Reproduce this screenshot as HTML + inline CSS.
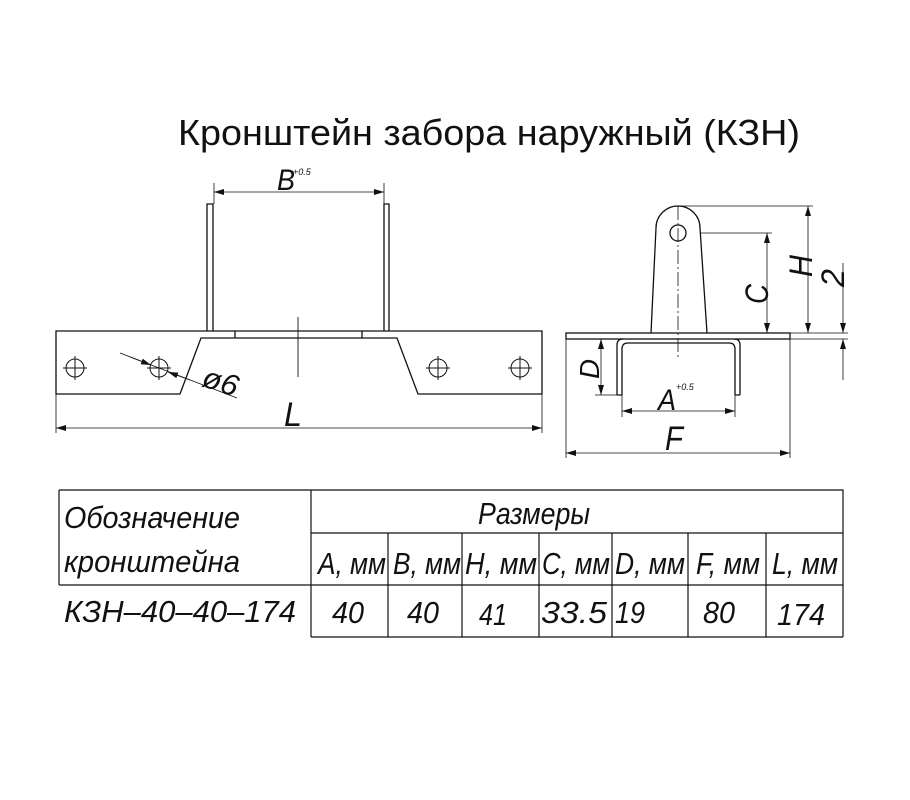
<!DOCTYPE html>
<html><head><meta charset="utf-8"><style>
html,body{margin:0;padding:0;background:#fff}
svg{display:block}
text{font-family:"Liberation Sans",sans-serif;fill:#111}
.t{font-style:italic;font-size:31px}
</style></head><body>
<svg width="910" height="800" viewBox="0 0 910 800" xmlns="http://www.w3.org/2000/svg">
<defs>
<marker id="a" viewBox="0 0 10 6" refX="10" refY="3" markerWidth="10" markerHeight="6" markerUnits="userSpaceOnUse" orient="auto-start-reverse"><path d="M0,0 L10,3 L0,6z" fill="#111"/></marker>
</defs>
<text x="178" y="145" font-size="36" textLength="622" lengthAdjust="spacingAndGlyphs">Кронштейн  забора  наружный  (КЗН)</text>
<g stroke="#111" stroke-width="1.3" fill="none">
<path d="M56,331 H542 V394 H418 L397,338 H201 L180,394 H56 Z"/>
<path d="M235,331 V338 M362,331 V338"/>
<path d="M207,331 V204 H213 V331 M384,331 V204 H389 V331"/>
<path d="M214,204 V183 M384,204 V183" stroke-width="0.8"/>
<line x1="214" y1="192" x2="384" y2="192" stroke-width="0.8" marker-start="url(#a)" marker-end="url(#a)"/>
<path d="M298,317 V377" stroke-width="0.9"/>
<g stroke-width="1">
<circle cx="75" cy="368" r="9"/><path d="M63,368 H87 M75,356 V380"/>
<circle cx="159" cy="368" r="9"/><path d="M147,368 H171 M159,356 V380"/>
<circle cx="438" cy="368" r="9"/><path d="M426,368 H450 M438,356 V380"/>
<circle cx="520" cy="368" r="9"/><path d="M508,368 H532 M520,356 V380"/>
</g>
<line x1="120" y1="353" x2="237" y2="398" stroke-width="0.8"/>
<line x1="130" y1="357" x2="151" y2="365" stroke-width="0.8" marker-end="url(#a)"/>
<line x1="190" y1="380" x2="168" y2="372" stroke-width="0.8" marker-end="url(#a)"/>
<path d="M56,394 V433 M542,394 V433" stroke-width="0.8"/>
<line x1="56" y1="428" x2="542" y2="428" stroke-width="0.8" marker-start="url(#a)" marker-end="url(#a)"/>
<rect x="566" y="333" width="224" height="6"/>
<path d="M617,395 V345 Q617,339 623,339 M622,395 V349 Q622,343 628,343 H729 Q735,343 735,349 V395 M740,395 V345 Q740,339 734,339 M617,395 H622 M735,395 H740"/>
<path d="M651,333 L656,228 A22,22 0 0 1 700,228 L707,333"/>
<circle cx="678" cy="233" r="8"/>
<path d="M678,206 V358" stroke-width="0.8" stroke-dasharray="14,3,2,3"/>
<path d="M700,233 H772 M678,206 H813 M790,333 H848 M790,339 H848" stroke-width="0.8"/>
<line x1="767" y1="233" x2="767" y2="333" stroke-width="0.8" marker-start="url(#a)" marker-end="url(#a)"/>
<line x1="808" y1="206" x2="808" y2="333" stroke-width="0.8" marker-start="url(#a)" marker-end="url(#a)"/>
<line x1="843" y1="263" x2="843" y2="333" stroke-width="0.8" marker-end="url(#a)"/>
<line x1="843" y1="380" x2="843" y2="339" stroke-width="0.8" marker-end="url(#a)"/>
<path d="M595,395 H617 M622,395 V417 M735,395 V417 M566,339 V458 M790,339 V458" stroke-width="0.8"/>
<line x1="601" y1="339" x2="601" y2="395" stroke-width="0.8" marker-start="url(#a)" marker-end="url(#a)"/>
<line x1="622" y1="411" x2="735" y2="411" stroke-width="0.8" marker-start="url(#a)" marker-end="url(#a)"/>
<line x1="566" y1="453" x2="790" y2="453" stroke-width="0.8" marker-start="url(#a)" marker-end="url(#a)"/>
<path d="M59,490 H843 V637 M59,490 V585 M311,490 V637 M311,533 H843 M59,585 H843 M311,637 H843" stroke-width="1.2"/>
<path d="M388,533 V637 M462,533 V637 M539,533 V637 M612,533 V637 M688,533 V637 M766,533 V637" stroke-width="1.2"/>
</g>
<g class="t">
<text x="277" y="190" font-size="30" textLength="18" lengthAdjust="spacingAndGlyphs">B</text><text x="293" y="175" font-size="9">+0.5</text>
<text x="284" y="426" font-size="34" textLength="18" lengthAdjust="spacingAndGlyphs">L</text>
<text x="203" y="390" font-size="30" transform="rotate(18 215 380)" textLength="36" lengthAdjust="spacingAndGlyphs">ø6</text>
<text x="576" y="378" font-size="28" transform="rotate(-90 588 367)" textLength="20" lengthAdjust="spacingAndGlyphs">D</text>
<text x="746" y="302" font-size="32" transform="rotate(-90 758 292)" textLength="20" lengthAdjust="spacingAndGlyphs">C</text>
<text x="788" y="277" font-size="32" transform="rotate(-90 800 265)" textLength="22" lengthAdjust="spacingAndGlyphs">H</text>
<text x="824" y="289" font-size="32" transform="rotate(-90 833 278)" textLength="18" lengthAdjust="spacingAndGlyphs">2</text>
<text x="658" y="410" font-size="30" textLength="18" lengthAdjust="spacingAndGlyphs">A</text><text x="676" y="390" font-size="9">+0.5</text>
<text x="665" y="450" font-size="34" textLength="18" lengthAdjust="spacingAndGlyphs">F</text>
<text x="64" y="528" textLength="176" lengthAdjust="spacingAndGlyphs">Обозначение</text>
<text x="64" y="572" textLength="176" lengthAdjust="spacingAndGlyphs">кронштейна</text>
<text x="64" y="622" textLength="232" lengthAdjust="spacingAndGlyphs">КЗН–40–40–174</text>
<text x="478" y="524" textLength="112" lengthAdjust="spacingAndGlyphs">Размеры</text>
<text x="318" y="574" textLength="68" lengthAdjust="spacingAndGlyphs">A, мм</text>
<text x="393" y="574" textLength="68" lengthAdjust="spacingAndGlyphs">B, мм</text>
<text x="465" y="574" textLength="72" lengthAdjust="spacingAndGlyphs">H, мм</text>
<text x="542" y="574" textLength="68" lengthAdjust="spacingAndGlyphs">C, мм</text>
<text x="615" y="574" textLength="70" lengthAdjust="spacingAndGlyphs">D, мм</text>
<text x="696" y="574" textLength="64" lengthAdjust="spacingAndGlyphs">F, мм</text>
<text x="772" y="574" textLength="66" lengthAdjust="spacingAndGlyphs">L, мм</text>
<text x="332" y="623" textLength="32" lengthAdjust="spacingAndGlyphs">40</text>
<text x="407" y="623" textLength="32" lengthAdjust="spacingAndGlyphs">40</text>
<text x="479" y="625" textLength="28" lengthAdjust="spacingAndGlyphs">41</text>
<text x="541" y="623" textLength="66" lengthAdjust="spacingAndGlyphs">33.5</text>
<text x="615" y="623" textLength="30" lengthAdjust="spacingAndGlyphs">19</text>
<text x="703" y="623" textLength="32" lengthAdjust="spacingAndGlyphs">80</text>
<text x="777" y="625" textLength="48" lengthAdjust="spacingAndGlyphs">174</text>
</g>
</svg>
</body></html>
